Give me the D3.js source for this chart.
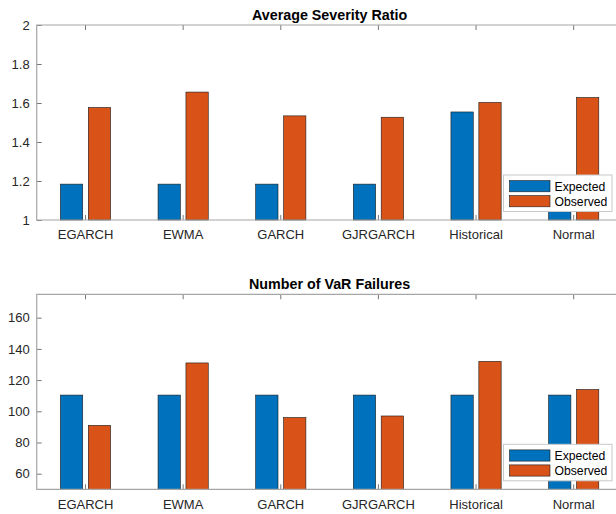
<!DOCTYPE html>
<html lang="en">
<head>
    <meta charset="UTF-8">
    <title>VaR Backtest Summary</title>
    <script src="https://d3js.org/d3.v7.min.js"></script>
    <style>
        body { margin: 0; background: #fff; }
        text { font-family: "Liberation Sans", Arial, Helvetica, sans-serif; }
    </style>
</head>
<body>
    <script>
        // Data
        const categories = ["EGARCH", "EWMA", "GARCH", "GJRGARCH", "Historical", "Normal"];
        const series = ["Expected", "Observed"];
        const colors = ["#0072BD", "#D95319"];

        const severityExpected = [1.184, 1.184, 1.184, 1.184, 1.554, 1.184];
        const severityObserved = [1.577, 1.656, 1.534, 1.527, 1.603, 1.628];
        const severityTicks = [1, 1.2, 1.4, 1.6, 1.8, 2];

        const failuresExpected = [110.4, 110.4, 110.4, 110.4, 110.4, 110.4];
        const failuresObserved = [91, 131, 96, 97, 132, 114];
        const failuresTicks = [60, 80, 100, 120, 140, 160];

        const width = 616, height = 514;
        const svg = d3.select("body")
            .append("svg")
            .attr("width", width)
            .attr("height", height);

        // x goes a little past the window on the right, like the original
        const left = 36.7, right = 622.5;
        const x = d3.scaleBand().domain(categories).range([left, right]).padding(0);
        const bw = x.bandwidth();
        const xSub = d3.scaleBand().domain(series)
            .range([-0.2857 * bw, 0.2857 * bw])
            .paddingInner(0.2).paddingOuter(0.1);

        function drawPanel(top, bottom, yDomain, ticks, fmt, expected, observed, title) {
            const y = d3.scaleLinear().domain(yDomain).range([bottom, top]);
            const g = svg.append("g");

            const rows = categories.map((c, i) => ({ cat: c, values: [expected[i], observed[i]] }));

            // bars
            g.selectAll("g.grp")
                .data(rows)
                .enter()
                .append("g")
                .attr("transform", d => `translate(${x(d.cat) + bw / 2},0)`)
                .selectAll("rect")
                .data(d => d.values.map((v, k) => ({ s: series[k], v: v, k: k })))
                .enter()
                .append("rect")
                .attr("x", d => xSub(d.s))
                .attr("width", xSub.bandwidth())
                .attr("y", d => y(d.v))
                .attr("height", d => bottom - y(d.v))
                .attr("fill", d => colors[d.k])
                .attr("stroke", "#1a1a1a")
                .attr("stroke-width", 0.6);

            // axes, ticks pointing inward
            const xAxis = d3.axisBottom(x).tickSize(-5).tickPadding(10);
            const gx = g.append("g").attr("transform", `translate(0,${bottom})`).call(xAxis);
            const gxTop = g.append("g").attr("transform", `translate(0,${top})`)
                .call(d3.axisTop(x).tickSize(-5).tickFormat(""));
            const gy = g.append("g").attr("transform", `translate(${left},0)`)
                .call(d3.axisLeft(y).tickValues(ticks).tickFormat(fmt).tickSize(-5).tickPadding(7));

            [gx, gxTop, gy].forEach(a => {
                a.select(".domain").remove();
                a.selectAll(".tick line").attr("stroke", "#555").attr("stroke-width", 0.8);
                a.selectAll(".tick text").attr("fill", "#262626").attr("font-size", "13px")
                    .attr("font-family", "'Liberation Sans', Arial, sans-serif");
            });

            // frame
            g.append("path")
                .attr("d", `M${right},${top} H${left} V${bottom} H${right}`)
                .attr("fill", "none")
                .attr("stroke", "#a6a6a6")
                .attr("stroke-width", 1.2);

            // title
            svg.append("text")
                .attr("x", (left + right) / 2)
                .attr("y", top - 5.5)
                .attr("text-anchor", "middle")
                .attr("font-weight", "bold")
                .attr("font-size", "14.3px")
                .attr("fill", "#000")
                .text(title);

            // legend
            const lx = 503.5, ly = top + 150;
            const lg = svg.append("g").attr("transform", `translate(${lx},${ly})`);
            lg.append("rect")
                .attr("width", 108.5).attr("height", 36.5)
                .attr("fill", "#fff").attr("stroke", "#c8c8c8").attr("stroke-width", 1);
            series.forEach((s, k) => {
                lg.append("rect")
                    .attr("x", 6).attr("y", 5.6 + k * 15)
                    .attr("width", 40.5).attr("height", 11.2)
                    .attr("fill", colors[k]).attr("stroke", "#1a1a1a").attr("stroke-width", 0.6);
                lg.append("text")
                    .attr("x", 51).attr("y", 15.8 + k * 15)
                    .attr("font-size", "12.2px")
                    .attr("fill", "#000")
                    .text(s);
            });
        }

        drawPanel(25, 220, [1, 2], severityTicks, d3.format("~g"),
            severityExpected, severityObserved, "Average Severity Ratio");
        drawPanel(294.3, 489.3, [50, 175], failuresTicks, d3.format("d"),
            failuresExpected, failuresObserved, "Number of VaR Failures");
    </script>
</body>
</html>
